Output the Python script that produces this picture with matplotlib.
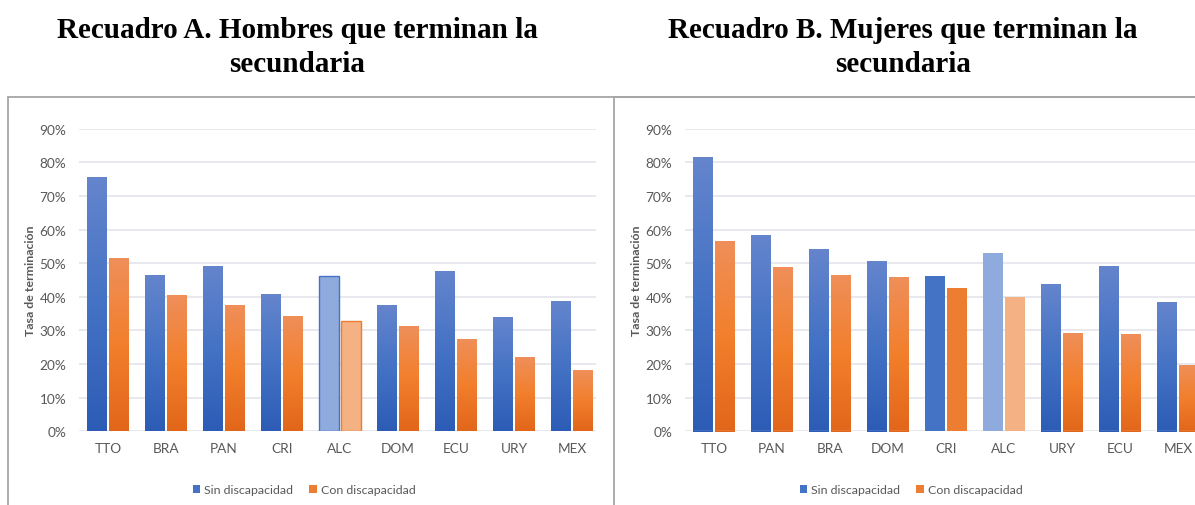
import numpy as np
import matplotlib
matplotlib.use("Agg")
import matplotlib.pyplot as plt
from matplotlib.colors import LinearSegmentedColormap
from matplotlib.patches import Rectangle
from matplotlib.ticker import PercentFormatter

# ---------------- data ----------------
cats_A = ['TTO', 'BRA', 'PAN', 'CRI', 'ALC', 'DOM', 'ECU', 'URY', 'MEX']
sin_A = [75.7, 46.6, 49.3, 40.7, 46.3, 37.7, 47.8, 34.1, 38.9]
con_A = [51.6, 40.4, 37.7, 34.4, 32.9, 31.2, 27.6, 22.0, 18.1]

cats_B = ['TTO', 'PAN', 'BRA', 'DOM', 'CRI', 'ALC', 'URY', 'ECU', 'MEX']
sin_B = [81.5, 58.4, 54.2, 50.7, 46.2, 53.1, 43.9, 49.3, 38.5]
con_B = [56.6, 48.9, 46.5, 45.9, 42.5, 39.8, 29.3, 28.8, 19.7]

title_A = "Recuadro A. Hombres que terminan la\nsecundaria"
title_B = "Recuadro B. Mujeres que terminan la\nsecundaria"
series_names = ["Sin discapacidad", "Con discapacidad"]
ylabel = "Tasa de terminación"

# ---------------- style ----------------
W, H = 1195, 506
DPI = 100
fig = plt.figure(figsize=(W / DPI, H / DPI), dpi=DPI)
fig.patch.set_facecolor("white")

FONT = "Lato"
GRAY = "#595959"
BLUE_MID, ORANGE_MID = "#4472c4", "#ed7d31"
blue_cmap = LinearSegmentedColormap.from_list("b", ["#2d5cb6", "#4472c4", "#6585cd"])
orange_cmap = LinearSegmentedColormap.from_list("o", ["#e2661a", "#f27f2c", "#ef8f5a"])
grad = np.linspace(0, 1, 256).reshape(-1, 1)


def px_rect(x0, y0, x1, y1):
    """pixel box (top-left origin) -> figure fraction [l, b, w, h]"""
    return [x0 / W, 1 - y1 / H, (x1 - x0) / W, (y1 - y0) / H]


def panel(px_left, px_right_axes, legend_cx, cats, sin, con, special, style,
          baseline_line):
    # panel border
    fig.add_artist(Rectangle((px_left / W, -0.1), 2.0, 1 - 98 / H + 0.1,
                             transform=fig.transFigure, fill=False,
                             edgecolor="#a6a6a6", linewidth=1.3, zorder=0))
    ax_l = px_left + 71
    ax = fig.add_axes(px_rect(ax_l, 129.7, px_right_axes, 432.3))
    ax.set_facecolor("none")
    x = np.arange(len(cats))
    off, bw = 0.19, 0.33
    sv = np.array(sin) / 100
    cv = np.array(con) / 100
    bottom = -0.0035 if baseline_line else 0
    b1 = ax.bar(x - off, sv - bottom, bw, bottom=bottom, color=BLUE_MID,
                label=series_names[0], zorder=2, linewidth=0)
    b2 = ax.bar(x + off, cv - bottom, bw, bottom=bottom, color=ORANGE_MID,
                label=series_names[1], zorder=2, linewidth=0)
    for i in range(len(cats)):
        for p, cmap, light, edge in ((b1.patches[i], blue_cmap, "#8faadc", "#4472c4"),
                                     (b2.patches[i], orange_cmap, "#f4b183", "#ed7d31")):
            if cats[i] == special:
                p.set_facecolor(light)
                if style == "edge":
                    p.set_edgecolor(edge)
                    p.set_linewidth(1.0)
                continue
            if style == "edge" or cats[i] != "CRI":
                x0, y0 = p.get_x(), p.get_y()
                im = ax.imshow(grad, cmap=cmap, origin="lower", aspect="auto",
                               extent=[x0, x0 + p.get_width(), y0, y0 + p.get_height()],
                               zorder=2.5, interpolation="bilinear")
                im.set_clip_path(p)
    if baseline_line:
        for i in range(len(cats)):
            if cats[i] in (special, "CRI"):
                continue
            for xc in (x[i] - off, x[i] + off):
                ax.plot([xc - bw / 2, xc + bw / 2], [0.0008, 0.0008], color="#e8ebf0",
                        lw=0.9, zorder=3, solid_capstyle="butt")

    ax.set_xlim(-0.5, -0.5 + (px_right_axes - ax_l) / 58.0)
    ax.set_ylim(0, 0.9)
    ax.set_yticks(np.arange(0, 0.91, 0.1))
    ax.yaxis.set_major_formatter(PercentFormatter(1.0, decimals=0))
    ax.set_xticks(x)
    ax.set_xticklabels(cats)
    ax.grid(axis="y", color="#e0e3e9", linewidth=1.1, zorder=0)
    ax.set_axisbelow(True)
    for s in ax.spines.values():
        s.set_visible(False)
    ax.tick_params(axis="both", length=0, colors=GRAY, labelsize=9.8)
    ax.tick_params(axis="y", pad=9)
    ax.tick_params(axis="x", pad=8)
    for lab in ax.get_xticklabels() + ax.get_yticklabels():
        lab.set_fontfamily(FONT)
    fig.text((px_left + 23) / W, 1 - 281 / H, ylabel, rotation=90, ha="center",
             va="center", fontsize=8.9, fontweight="bold", color=GRAY, family=FONT)
    leg = fig.legend(handles=[b1, b2], labels=series_names, loc="center",
                     bbox_to_anchor=(legend_cx / W, 1 - 490.5 / H), ncol=2, frameon=False,
                     handlelength=0.62, handleheight=0.62, handletextpad=0.3,
                     columnspacing=1.3, prop={"family": FONT, "size": 8.9})
    for t in leg.get_texts():
        t.set_color(GRAY)
    return ax


axA = panel(8, 596, 304, cats_A, sin_A, con_A, "ALC", "edge", False)
axB = panel(614, 1195, 911, cats_B, sin_B, con_B, "ALC", "flat", True)

for cx, t in ((297, title_A), (903, title_B)):
    fig.text(cx / W, 1 - 47.5 / H, t, ha="center", va="center", fontsize=21,
             fontweight="bold", family="Liberation Serif", linespacing=1.3,
             color="black")

fig.savefig("out.png", dpi=DPI, facecolor="white")
